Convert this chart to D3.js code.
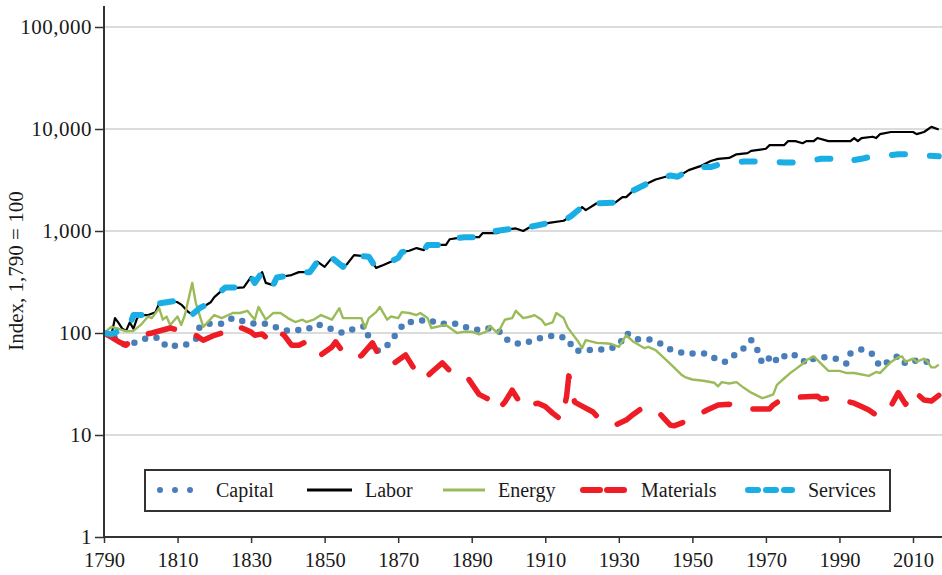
<!DOCTYPE html>
<html>
<head>
<meta charset="utf-8">
<script src="https://cdn.jsdelivr.net/npm/d3@7"></script>
<style>
  body { margin: 0; background: #fff; }
  svg { display: block; font-family: "Liberation Serif", "DejaVu Serif", serif; }
</style>
</head>
<body>
<div id="container"></div>
<script>
/* CONSTANTS AND GLOBALS */
const width = 942,
  height = 575,
  margin = { top: 6, bottom: 38, left: 104, right: 0 };

/* DATA (year, index value; 1790 = 100) */
const capital = [
  [1790,100],[1793,90],[1796,75],[1799,82],[1802,90],[1805,90],[1807,73],[1809,75],[1812,76],[1815,87],
  [1816,115],[1818,123],[1822,123],[1825,140],[1828,130],[1831,123],[1834,123],[1838,110],[1840,105],[1842,107],
  [1845,107],[1848,122],[1851,112],[1855,100],[1858,110],[1861,117],[1862,90],[1863,65],[1866,70],[1868,82],
  [1870,105],[1872,128],[1875,128],[1878,137],[1881,122],[1885,125],[1888,115],[1891,107],[1894,112],[1898,102],
  [1900,83],[1903,78],[1906,83],[1909,90],[1913,95],[1916,88],[1918,67],[1920,67],[1924,69],[1927,69],
  [1930,76],[1932,100],[1935,87],[1938,87],[1941,80],[1944,69],[1948,63],[1950,63],[1954,63],[1957,54],
  [1959,52],[1961,59],[1964,71],[1966,85],[1968,65],[1969,50],[1972,61],[1973,52],[1976,63],[1979,59],
  [1981,50],[1983,56],[1986,58],[1989,56],[1992,50],[1993,63],[1996,69],[1999,62],[2001,47],[2004,54],
  [2006,60],[2008,50],[2011,54],[2014,52],[2016,51]
];

const labor = [
  [1790,100],[1791,98],[1792,95],[1793,140],[1794,125],[1795,110],[1796,105],[1797,127],[1798,110],[1799,140],
  [1800,150],[1802,150],[1804,160],[1805,195],[1807,200],[1809,205],[1810,200],[1811,190],[1813,160],[1814,152],
  [1815,165],[1817,180],[1819,200],[1820,225],[1822,260],[1823,280],[1825,275],[1828,280],[1830,355],[1831,310],
  [1833,395],[1834,310],[1836,295],[1837,350],[1839,360],[1841,370],[1843,395],[1846,395],[1848,500],[1850,445],
  [1852,545],[1853,520],[1855,445],[1856,470],[1858,580],[1860,570],[1862,560],[1864,435],[1866,465],[1868,500],
  [1870,545],[1871,620],[1873,640],[1875,680],[1877,650],[1878,730],[1883,730],[1884,830],[1886,850],[1888,870],
  [1892,870],[1893,955],[1897,955],[1899,1030],[1902,1060],[1904,1000],[1906,1100],[1909,1150],[1911,1200],[1915,1260],
  [1917,1400],[1920,1720],[1921,1600],[1924,1870],[1926,1800],[1929,1900],[1931,2150],[1932,2150],[1934,2500],[1938,2950],
  [1940,3200],[1944,3500],[1946,3400],[1949,3950],[1952,4300],[1955,4850],[1957,5100],[1960,5200],[1962,5650],[1965,5800],
  [1966,6100],[1970,6400],[1971,6950],[1975,6950],[1976,7600],[1978,7600],[1980,7250],[1981,7600],[1983,7600],[1984,8150],
  [1987,7600],[1993,7600],[1994,8150],[1995,7600],[1996,8150],[1999,8400],[2000,8150],[2001,8900],[2004,9350],[2010,9350],
  [2011,8900],[2013,9350],[2015,10500],[2017,9900]
];

const energy = [
  [1790,100],[1792,115],[1794,110],[1796,104],[1798,105],[1800,120],[1802,145],[1803,140],[1805,175],[1806,135],
  [1807,145],[1808,120],[1810,145],[1811,120],[1812,150],[1814,310],[1815,195],[1817,115],[1820,150],[1822,140],
  [1825,157],[1827,157],[1829,165],[1831,135],[1832,180],[1834,135],[1836,157],[1838,157],[1840,140],[1842,128],
  [1844,135],[1845,128],[1847,135],[1849,150],[1851,140],[1852,135],[1854,175],[1855,140],[1858,140],[1860,140],
  [1861,112],[1862,140],[1864,160],[1865,180],[1867,135],[1868,145],[1870,140],[1871,160],[1873,157],[1875,150],
  [1876,157],[1878,140],[1879,112],[1883,120],[1886,100],[1888,103],[1890,103],[1892,97],[1894,103],[1895,118],
  [1896,108],[1897,100],[1898,115],[1899,135],[1901,140],[1902,165],[1904,140],[1906,145],[1907,150],[1909,135],
  [1910,120],[1912,127],[1913,157],[1915,140],[1916,115],[1917,102],[1919,82],[1920,71],[1921,85],[1924,80],
  [1927,79],[1928,78],[1930,73],[1932,95],[1934,82],[1937,71],[1938,73],[1940,68],[1943,54],[1945,46],
  [1947,39],[1948,37],[1950,35],[1953,34],[1956,32.5],[1957,30],[1958,33],[1960,32],[1962,33],[1964,29],
  [1966,26],[1969,23],[1970,23.5],[1972,25],[1973,31],[1975,36],[1977,41.5],[1978,44],[1980,50],[1981,54],
  [1983,59],[1985,50],[1987,42.5],[1990,42.5],[1992,40.5],[1994,40.5],[1998,38],[2000,41.5],[2001,40.5],[2004,52],
  [2006,58],[2007,59],[2008,52],[2010,56],[2011,52],[2013,56],[2014,52],[2015,46],[2016,46],[2017,49]
];

const materials = [
  [1790,100],[1792,91],[1794,82],[1796,76],[1798,89],[1800,95],[1803,100],[1806,107],[1808,112],[1810,107],
  [1812,110],[1814,100],[1817,85],[1820,95],[1822,100],[1825,120],[1828,110],[1830,102],[1831,95],[1833,98],
  [1834,91],[1836,112],[1839,95],[1841,76],[1843,76],[1845,82],[1848,71],[1849,61],[1852,73],[1853,82],
  [1855,65],[1858,57],[1860,60],[1863,80],[1865,58],[1867,51],[1869,51],[1872,61],[1875,41],[1877,35],
  [1879,41],[1882,51],[1885,39],[1887,39],[1889,36],[1892,25],[1894,23],[1896,21],[1897,17.6],[1899,21],
  [1901,27.5],[1904,18.5],[1906,19.7],[1908,20.5],[1910,19],[1912,16.4],[1914.5,14],[1915.8,24],[1916.4,38],[1918,21],
  [1920,19.2],[1923,16.8],[1925,14],[1927,13.5],[1929,12.5],[1932,14],[1934,16],[1936,18],[1940,18],[1942,15],
  [1944,12.5],[1945,12.3],[1948,13.5],[1950,14.7],[1954,17.6],[1957,19.7],[1960,20],[1965,18],[1971,18],[1972,19.7],
  [1974,22],[1979,23.5],[1984,24],[1985,22.5],[1988,23],[1991,22],[1994,20.5],[1996,19],[1998,17.6],[2000,15.7],
  [2003,16.5],[2006,26],[2008,20],[2010,27.5],[2013,22],[2015,21.5],[2017,24.5]
];

const services = [
  [1790,100],[1792,97],[1794,105],[1795,120],[1796,112],[1797,118],[1798,150],[1802,150],[1804,160],[1805,195],
  [1809,205],[1811,190],[1813,160],[1814,152],[1816,175],[1819,200],[1822,260],[1823,280],[1828,280],[1830,355],
  [1831,310],[1833,395],[1834,310],[1836,295],[1837,350],[1841,370],[1843,395],[1846,395],[1848,500],[1850,445],
  [1852,545],[1855,445],[1858,580],[1862,560],[1864,435],[1866,465],[1870,545],[1871,620],[1875,680],[1877,650],
  [1878,730],[1883,730],[1884,830],[1888,870],[1892,870],[1893,955],[1899,1030],[1902,1060],[1904,1000],[1906,1100],
  [1911,1200],[1915,1260],[1917,1400],[1920,1720],[1921,1600],[1924,1870],[1929,1900],[1931,2150],[1934,2500],[1938,2950],
  [1940,3200],[1944,3500],[1946,3400],[1949,3950],[1952,4250],[1955,4240],[1957,4450],[1960,4700],[1964,4800],[1969,4800],
  [1972,4750],[1975,4700],[1979,4700],[1982,4900],[1985,5100],[1988,5100],[1990,4700],[1993,4900],[1996,5100],[1998,5300],
  [2000,5400],[2003,5500],[2006,5650],[2010,5650],[2013,5500],[2017,5400]
];

const yTicks = [1, 10, 100, 1000, 10000, 100000];
const xTicks = [1790, 1810, 1830, 1850, 1870, 1890, 1910, 1930, 1950, 1970, 1990, 2010];
const seriesNames = ["Capital", "Labor", "Energy", "Materials", "Services"];

/* STYLES */
const styles = {
  Capital:   { data: capital,   color: "#4a7ebb", width: 6.5, dash: "0 11.5", legendDash: "0 15",  cap: "round" },
  Labor:     { data: labor,     color: "#000000", width: 2.2, dash: null,      legendDash: null,    cap: "butt" },
  Energy:    { data: energy,    color: "#9bbb59", width: 2.4, dash: null,      legendDash: null,    cap: "butt" },
  Materials: { data: materials, color: "#ee1c25", width: 5.5, dash: "27 24",   legendDash: "17 7",  cap: "round" },
  Services:  { data: services,  color: "#1aaee5", width: 6,   dash: "13 25",   legendDash: "10 8",  cap: "round" }
};

/* SCALES */
const xScale = d3.scaleLinear()
  .domain([1790, 2010])
  .range([104, 913]);

const yScale = d3.scaleLog()
  .domain([1, 100000])
  .range([537, 27]);

const svg = d3.select("#container")
  .append("svg")
  .attr("width", width)
  .attr("height", height);

// grid lines
svg.append("g")
  .selectAll("line")
  .data(yTicks.slice(1))
  .join("line")
  .attr("x1", margin.left)
  .attr("x2", width)
  .attr("y1", d => yScale(d))
  .attr("y2", d => yScale(d))
  .attr("stroke", "#d0d0d0")
  .attr("stroke-width", 1.5);

// clip to plot area
svg.append("clipPath")
  .attr("id", "plot-clip")
  .append("rect")
  .attr("x", margin.left)
  .attr("y", 0)
  .attr("width", width - margin.left)
  .attr("height", yScale(1));

const line = d3.line()
  .x(d => xScale(d[0]))
  .y(d => yScale(d[1]));

svg.append("g")
  .attr("clip-path", "url(#plot-clip)")
  .selectAll("path")
  .data(seriesNames)
  .join("path")
  .attr("d", d => line(styles[d].data))
  .attr("fill", "none")
  .attr("stroke", d => styles[d].color)
  .attr("stroke-width", d => styles[d].width)
  .attr("stroke-dasharray", d => styles[d].dash)
  .attr("stroke-linecap", d => styles[d].cap)
  .attr("stroke-linejoin", "round");

/* AXES */
const yAxis = d3.axisLeft(yScale)
  .tickValues(yTicks)
  .tickFormat(d3.format(","))
  .tickSize(9)
  .tickPadding(3);

const yG = svg.append("g")
  .attr("transform", `translate(${margin.left},0)`)
  .call(yAxis);
yG.select(".domain").remove();
yG.selectAll(".tick line").attr("stroke", "#333").attr("stroke-width", 1.5);
yG.selectAll(".tick text")
  .attr("font-size", "21px")
  .attr("font-family", "'Liberation Serif', serif")
  .attr("letter-spacing", "0.5px")
  .attr("fill", "#1a1a1a");

const xAxis = d3.axisBottom(xScale)
  .tickValues(xTicks)
  .tickFormat(d => d)
  .tickSize(6)
  .tickPadding(9);

const xG = svg.append("g")
  .attr("transform", `translate(0,${yScale(1)})`)
  .call(xAxis);
xG.select(".domain").remove();
xG.selectAll(".tick line").attr("stroke", "#333").attr("stroke-width", 1.5);
xG.selectAll(".tick text")
  .attr("font-size", "20.5px")
  .attr("font-family", "'Liberation Serif', serif")
  .attr("fill", "#1a1a1a");

// axis lines
svg.append("line")
  .attr("x1", margin.left).attr("x2", margin.left)
  .attr("y1", margin.top).attr("y2", yScale(1))
  .attr("stroke", "#333").attr("stroke-width", 2);

svg.append("line")
  .attr("x1", margin.left - 1).attr("x2", width)
  .attr("y1", yScale(1)).attr("y2", yScale(1))
  .attr("stroke", "#333").attr("stroke-width", 2);

// y axis title
svg.append("text")
  .attr("transform", `translate(23, ${yScale(100) - 62}) rotate(-90)`)
  .attr("text-anchor", "middle")
  .attr("font-size", "21px")
  .attr("fill", "#1a1a1a")
  .text("Index, 1,790 = 100");

/* LEGEND */
const legendX = [157, 307, 443, 580, 745];
const legendW = [46, 45, 42, 48, 50];
const legendY = 490;

svg.append("rect")
  .attr("x", 145)
  .attr("y", 470)
  .attr("width", 745)
  .attr("height", 41)
  .attr("fill", "#fff")
  .attr("stroke", "#333")
  .attr("stroke-width", 2);

const legend = svg.append("g")
  .selectAll("g")
  .data(seriesNames)
  .join("g");

legend.append("line")
  .attr("x1", (d, i) => legendX[i] + (styles[d].cap === "round" ? 3 : 0))
  .attr("x2", (d, i) => legendX[i] + legendW[i] - (styles[d].cap === "round" ? 3 : 0))
  .attr("y1", legendY)
  .attr("y2", legendY)
  .attr("stroke", d => styles[d].color)
  .attr("stroke-width", d => d === "Labor" || d === "Energy" ? 3 : 6)
  .attr("stroke-dasharray", d => styles[d].legendDash)
  .attr("stroke-linecap", d => styles[d].cap);

legend.append("text")
  .attr("x", (d, i) => legendX[i] + legendW[i] + 13)
  .attr("y", legendY)
  .attr("dy", "0.35em")
  .attr("font-size", "20px")
  .attr("fill", "#1a1a1a")
  .text(d => d);
</script>
</body>
</html>
